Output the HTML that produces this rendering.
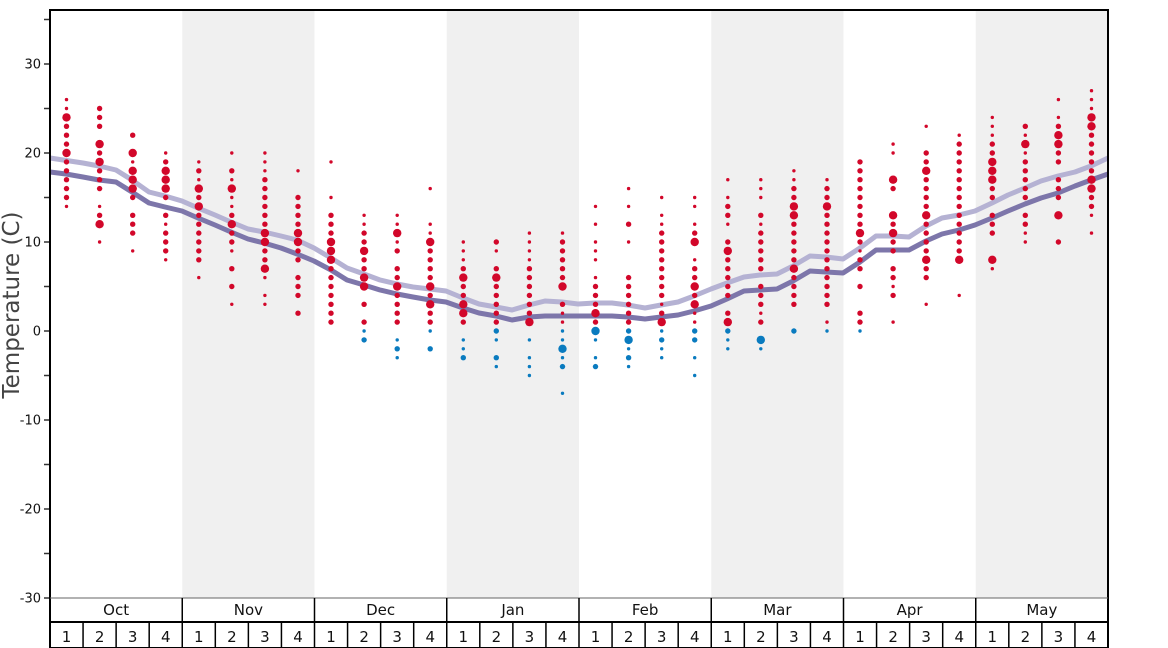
<!DOCTYPE html><html><head><meta charset="utf-8"><style>body{margin:0;background:#fff}svg{display:block;font-family:"DejaVu Sans","Liberation Sans",sans-serif}</style></head><body>
<svg id="s" width="1168" height="648" viewBox="0 0 1168 648"></svg>
<script>
const s=document.getElementById('s');let h='';
const X0=50,X1=1108,W=(X1-X0)/32,Y=t=>331-8.9*t;
const months=['Oct','Nov','Dec','Jan','Feb','Mar','Apr','May'];
for(let m=0;m<8;m++){if(m%2==1)h+=`<rect x="${X0+m*4*W}" y="10" width="${4*W}" height="588" fill="#f0f0f0"/>`;}
const L1=[[50,158],[83,163],[99,166],[116,170],[132,180],[149,192],[165,196],[182,201],[198,208],[215,215],[231,222],[248,229],[264,232],[281,236],[297,240],[314,248],[331,258],[347,268],[364,274],[380,280],[397,284],[413,287],[430,289],[446,291],[463,298],[479,304],[496,307],[512,310],[529,305],[545,301],[562,302],[578,304],[595,303],[612,303],[628,305],[645,308],[661,305],[678,302],[694,296],[711,289],[727,283],[744,277],[760,275],[777,274],[793,266],[810,256],[826,257],[843,259],[860,248],[876,236],[893,236],[909,237],[926,226],[942,218],[959,215],[975,211],[992,203],[1008,195],[1025,188],[1041,181],[1058,176],[1075,172],[1091,166],[1108,158]];
const L2=[[50,172],[66,174],[83,177],[99,180],[116,182],[132,192],[149,203],[165,207],[182,211],[198,218],[215,225],[231,232],[248,239],[264,243],[281,248],[297,254],[314,261],[331,270],[347,280],[364,285],[380,290],[397,294],[413,297],[430,300],[446,302],[463,308],[479,313],[496,316],[512,320],[529,317],[545,316],[562,316],[578,316],[595,316],[612,316],[628,317],[645,319],[661,317],[678,315],[694,311],[711,306],[727,299],[744,291],[760,290],[777,289],[793,281],[810,271],[826,272],[843,273],[860,262],[876,250],[893,250],[909,250],[926,241],[942,234],[959,230],[975,225],[992,218],[1008,211],[1025,204],[1041,198],[1058,193],[1075,186],[1091,180],[1108,174]];
h+=`<polyline points="${L1.join(' ')}" fill="none" stroke="#b5b2d3" stroke-width="5" stroke-linejoin="round"/>`;
h+=`<polyline points="${L2.join(' ')}" fill="none" stroke="#7d76aa" stroke-width="5" stroke-linejoin="round"/>`;
const D=["26s 25s 24L 23m 22m 21m 20L 19m 18m 17m 16m 15m 14s","25m 24m 23m 21L 20m 19L 18m 17m 16m 14s 13m 12L 10s","22m 20L 19s 18L 17L 16L 15m 13m 12m 11m 9s","20s 19m 18L 17L 16L 15m 13m 12s 11m 10m 9m 8s",
"19s 18m 17s 16L 15m 14L 13m 12m 11m 10m 9m 8m 6s","20s 18m 17s 16L 15s 14s 13m 12L 11m 10m 9s 7m 5m 3s","20s 19s 18s 17m 16m 15m 14m 13m 12m 11L 10L 9m 8m 7L 6s 4s 3s","18s 15m 14m 13m 12m 11L 10L 9m 8m 6m 5m 4m 2m",
"19s 15s 13m 12m 11m 10L 9L 8L 7m 6m 5m 4m 3m 2m 1m","13s 12s 11m 10m 9L 8m 7m 6L 5L 3m 1m 0bs -1bm","13s 12s 11L 10s 9m 7m 6m 5L 4m 3m 2m 1m -1bs -2bm -3bs","16s 12s 11s 10L 9m 8m 7m 6m 5L 4m 3L 2m 1m 0bs -2bm",
"10s 9s 8s 7m 6L 5m 4m 3L 2L 1m -1bs -2bs -3bm","10m 9s 7m 6L 5m 4m 3m 2m 1m 0bm -1bs -3bm -4bs","11s 10s 9s 8s 7m 6m 5m 4m 3m 2m 1L -1bs -3bs -4bs -5bs","11s 10m 9m 8m 7m 6m 5L 3m 2s 1s 0bs -1bs -2bL -3bs -4bm -7bs",
"14s 12s 10s 9s 8s 6s 5m 4m 3m 2L 1m 0bL -1bs -3bs -4bm","16s 14s 12m 10s 6m 5m 4m 3m 2m 1m 0bm -1bL -2bs -3bm -4bs","15s 13s 12s 11m 10m 9m 8m 7m 6m 5m 4m 3s 2m 1L 0bs -1bm -2bs -3bs","15s 14s 12s 11m 10L 8s 7m 6m 5L 4m 3L 2s 1s 0bm -1bm -3bs -5bs",
"17s 15s 14m 13m 12s 10m 9L 8m 7m 6m 5m 4m 2m 1L 0bm -1bs -2bs","17s 16s 15s 13m 12s 11m 10m 9m 8m 7m 5m 4m 3m 2s 1m -1bL -2bs","18s 17s 16m 15m 14L 13L 12m 11m 10m 9m 8m 7L 6m 5m 4m 3m 0bm","17s 16m 15m 14L 13m 12m 11m 10m 9m 8m 7m 6m 5m 4m 3m 1s 0bs",
"19m 18m 17m 16m 15m 14m 13m 12m 11L 10m 9s 8m 7m 5m 2m 1m 0bs","21s 20s 17L 16m 13L 12m 11L 10m 9m 7m 6m 5s 4m 1s","23s 20m 19m 18L 17m 16m 15m 14m 13L 12m 11m 10m 9m 8L 7m 6m 3s","22s 21m 20m 19m 18m 17m 16m 15m 14m 13m 12m 11m 10m 9m 8L 4s",
"24s 23s 22s 21m 20m 19L 18L 17L 16m 15m 13m 12m 11m 8L 7s","23m 22s 21L 20s 19m 18m 17m 16m 15m 13m 12m 11s 10s","26s 24s 23m 22L 21L 20m 19m 17m 16m 15m 13L 10m","27s 26s 25s 24L 23L 22m 21m 20m 19m 18m 17L 16L 15m 14m 13s 11s"];
const R={s:1.7,m:2.7,L:4.2};
D.forEach((c,i)=>{const x=(X0+W*(i+.5)).toFixed(1);c.split(' ').forEach(tk=>{const mt=tk.match(/(-?\d+)(b?)([smL])/);const col=mt[2]?'#0a7bbf':'#d2072a';h+=`<circle cx="${x}" cy="${Y(+mt[1]).toFixed(1)}" r="${R[mt[3]]}" fill="${col}"/>`;});});
// y axis ticks
for(let t=-30;t<=35;t+=5){const y=Y(t);h+=`<line x1="44" x2="50" y1="${y}" y2="${y}" stroke="#333" stroke-width="1.5"/>`;if(t%10==0&&t<=30)h+=`<text x="41" y="${y+4.5}" font-size="13" text-anchor="end" fill="#111">${t}</text>`;}
h+=`<text transform="translate(19,305) rotate(-90)" font-size="23" text-anchor="middle" fill="#444">Temperature (C)</text>`;
h+=`<rect x="50" y="10" width="1058" height="638" fill="none" stroke="#000" stroke-width="2"/>`;
h+=`<line x1="50" x2="1108" y1="598" y2="598" stroke="#666" stroke-width="1"/>`;
h+=`<line x1="50" x2="1108" y1="622" y2="622" stroke="#000" stroke-width="2"/>`;
for(let m=0;m<8;m++){const x=X0+m*4*W;if(m>0)h+=`<line x1="${x}" x2="${x}" y1="598" y2="648" stroke="#000" stroke-width="1.5"/>`;h+=`<text x="${x+2*W}" y="615" font-size="15" text-anchor="middle" fill="#111">${months[m]}</text>`;
for(let w=0;w<4;w++){const xx=x+w*W;if(w>0)h+=`<line x1="${xx}" x2="${xx}" y1="622" y2="648" stroke="#000" stroke-width="1.5"/>`;h+=`<text x="${xx+W/2}" y="642" font-size="15" text-anchor="middle" fill="#111">${w+1}</text>`;}}
s.innerHTML=h;
</script></body></html>
